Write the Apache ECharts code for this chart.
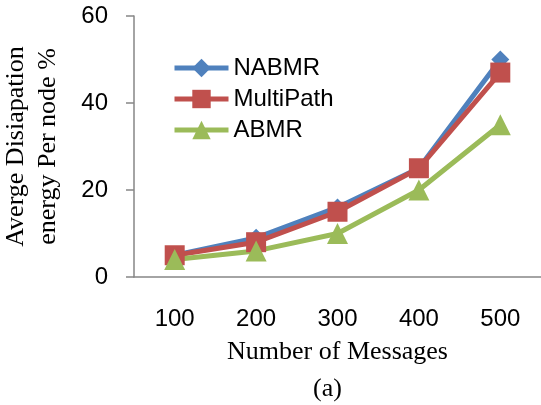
<!DOCTYPE html>
<html>
<head>
<meta charset="utf-8">
<script src="https://cdn.jsdelivr.net/npm/echarts@6/dist/echarts.min.js"></script>
<style>
  html, body { margin: 0; padding: 0; background: #fff; }
  #chart { width: 541px; height: 405px; }
</style>
</head>
<body>
<div id="chart"></div>
<script>
// values
const messages = ['100', '200', '300', '400', '500'];
const nabmr = [5, 9, 16, 25, 50];
const multiPath = [5, 8, 15, 25, 47];
const abmr = [4, 6, 10, 20, 35];

const sansFont = '"Liberation Sans", Arial, sans-serif';
const serifFont = '"Liberation Serif", "Times New Roman", serif';
const axisGray = '#868686';

const chart = echarts.init(document.getElementById('chart'));

const makeSeries = (name, data, color, symbol, size) => ({
    name: name,
    type: 'line',
    data: data,
    symbol: symbol,
    symbolSize: size,
    lineStyle: { color: color, width: 5 },
    itemStyle: { color: color },
    z: 3
});

chart.setOption({
    animation: false,
    backgroundColor: '#fff',
    grid: { left: 134, right: 0, top: 16, bottom: 128, outerBoundsMode: 'none', containLabel: false },
    legend: {
        orient: 'vertical',
        left: 167,
        top: 51,
        itemWidth: 54,
        itemHeight: 23,
        itemGap: 7,
        lineStyle: { width: 5 },
        textStyle: { fontFamily: sansFont, fontSize: 24, lineHeight: 24, color: '#000' },
        data: ['NABMR', 'MultiPath', 'ABMR']
    },
    xAxis: {
        type: 'category',
        data: messages,
        boundaryGap: true,
        name: 'Number of Messages',
        nameLocation: 'middle',
        nameGap: 62,
        nameTextStyle: { fontFamily: serifFont, fontSize: 26, color: '#000' },
        axisLine: { lineStyle: { color: axisGray, width: 1.5 } },
        axisTick: { show: false },
        axisLabel: { margin: 30, fontFamily: sansFont, fontSize: 24, color: '#000' }
    },
    yAxis: {
        type: 'value',
        min: 0,
        max: 60,
        interval: 20,
        name: 'Averge Disiapation\nenergy Per node %',
        nameLocation: 'middle',
        nameGap: 70,
        nameTextStyle: { fontFamily: serifFont, fontSize: 26, lineHeight: 32, color: '#000' },
        axisLine: { show: true, lineStyle: { color: axisGray, width: 1.5 } },
        axisTick: { show: true, length: 8, lineStyle: { color: axisGray, width: 1.5 } },
        splitLine: { show: false },
        axisLabel: { margin: 26, fontFamily: sansFont, fontSize: 24, color: '#000' }
    },
    graphic: [{
        type: 'text',
        left: 313,
        top: 376,
        style: { text: '(a)', font: '26px ' + serifFont, fill: '#000' }
    }],
    series: [
        makeSeries('NABMR', nabmr, '#4F81BD', 'diamond', 18),
        makeSeries('MultiPath', multiPath, '#C0504D', 'rect', 20),
        makeSeries('ABMR', abmr, '#9BBB59', 'triangle', 21)
    ]
});
</script>
</body>
</html>
